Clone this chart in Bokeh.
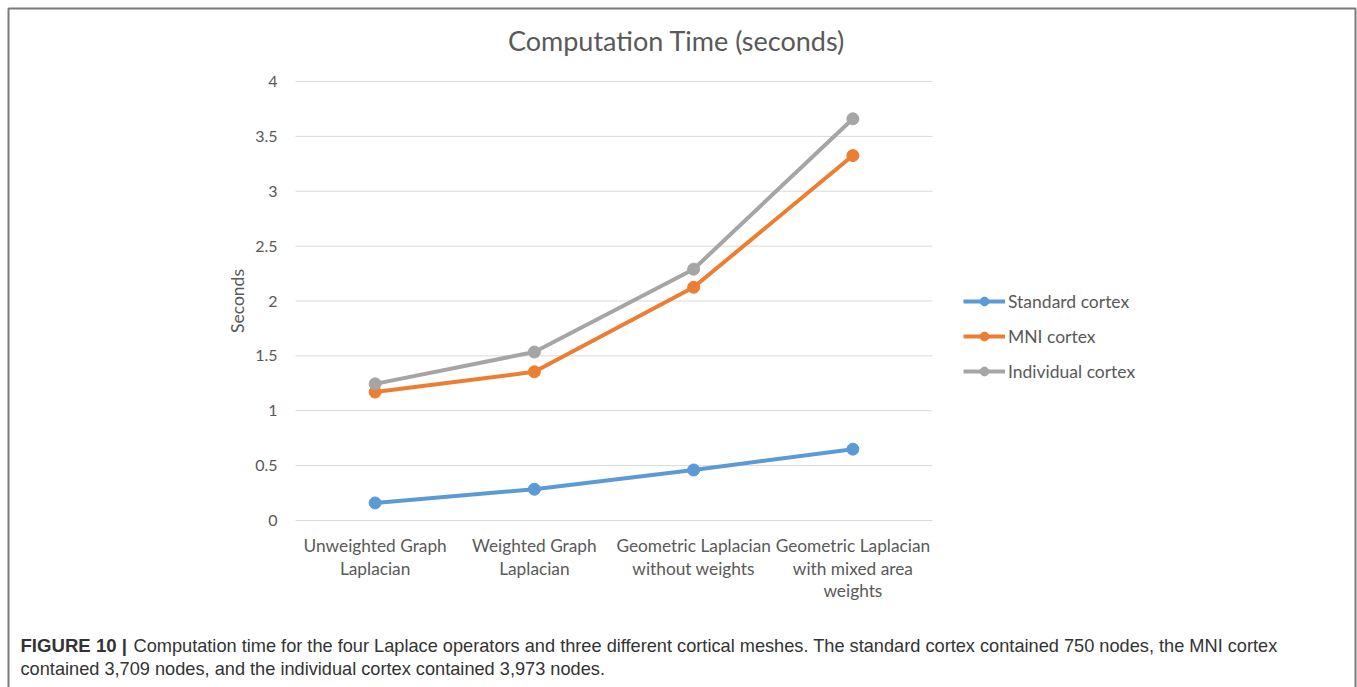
import math
from bokeh.plotting import figure
from bokeh.models import (Range1d, Label, Legend, LegendItem, LinearAxis,
                          PolyAnnotation, ColumnDataSource, FixedTicker)
from bokeh.embed import file_html
from bokeh.resources import INLINE

# ---------------- data ----------------
categories = ["Unweighted Graph Laplacian", "Weighted Graph Laplacian",
              "Geometric Laplacian without weights",
              "Geometric Laplacian with mixed area weights"]
category_label_lines = [["Unweighted Graph", "Laplacian"],
                        ["Weighted Graph", "Laplacian"],
                        ["Geometric Laplacian", "without weights"],
                        ["Geometric Laplacian", "with mixed area", "weights"]]
standard_cortex = [0.16, 0.285, 0.46, 0.65]
mni_cortex = [1.17, 1.355, 2.125, 3.325]
individual_cortex = [1.245, 1.535, 2.29, 3.66]
series_names = ["Standard cortex", "MNI cortex", "Individual cortex"]
y_ticks = [0, 0.5, 1, 1.5, 2, 2.5, 3, 3.5, 4]
y_tick_labels = ["0", "0.5", "1", "1.5", "2", "2.5", "3", "3.5", "4"]
title_text = "Computation Time (seconds)"
y_label = "Seconds"
caption_bold = "FIGURE 10 |"
caption_line1 = ("Computation time for the four Laplace operators and three different "
                 "cortical meshes. The standard cortex contained 750 nodes, the MNI cortex")
caption_line2 = "contained 3,709 nodes, and the individual cortex contained 3,973 nodes."

# ---------------- layout (pixels) ----------------
W, H = 1357, 687
PA_LEFT, PA_RIGHT, PA_TOP, PA_BOTTOM = 295, 932, 81, 520   # plot area
Y_MAX = 4.0
N_CAT = len(categories)
px_per_cat = (PA_RIGHT - PA_LEFT) / N_CAT
px_per_sec = (PA_BOTTOM - PA_TOP) / Y_MAX

cat_range = Range1d(-PA_LEFT / px_per_cat, (W - PA_LEFT) / px_per_cat)
sec_range = Range1d(-(H - PA_BOTTOM) / px_per_sec, PA_BOTTOM / px_per_sec)

CHART_FONT = "Lato"
TEXT_GRAY = "#595959"
colors = ["#5B9BD5", "#ED7D31", "#A5A5A5"]

p = figure(x_range=Range1d(0, W), y_range=Range1d(H, 0),
           width=W, height=H, min_border=0,
           output_backend="svg", toolbar_location=None,
           x_axis_type=None, y_axis_type=None)
p.extra_x_ranges = {"cat": cat_range}
p.extra_y_ranges = {"sec": sec_range}
p.outline_line_color = None
p.background_fill_color = "white"
p.border_fill_color = "white"
p.grid.visible = False

cat_x = [i + 0.5 for i in range(N_CAT)]

# horizontal gridlines
p.segment(x0=[0] * len(y_ticks), x1=[N_CAT] * len(y_ticks), y0=y_ticks, y1=y_ticks,
          x_range_name="cat", y_range_name="sec", line_color="#D9D9D9", line_width=1)

# y axis drawn at the plot-area's left edge
yax = LinearAxis(y_range_name="sec", fixed_location=PA_LEFT,
                 ticker=FixedTicker(ticks=y_ticks))
yax.major_label_overrides = dict(zip(y_ticks, y_tick_labels))
yax.axis_line_color = None
yax.major_tick_line_color = None
yax.minor_tick_line_color = None
yax.major_tick_out = 0
yax.major_tick_in = 0
yax.minor_tick_out = 0
yax.major_label_text_font = CHART_FONT
yax.major_label_text_color = TEXT_GRAY
yax.major_label_text_font_size = "16px"
yax.major_label_standoff = 18
p.add_layout(yax, "left")

# y axis title, centred on the plot area
p.add_layout(Label(x=237, y=(PA_TOP + PA_BOTTOM) / 2, text=y_label, angle=math.pi / 2,
                   text_align="center", text_baseline="middle",
                   text_font=CHART_FONT, text_font_size="17.5px",
                   text_color=TEXT_GRAY))

# category labels (multi-line)
lx, ly, lt = [], [], []
for xi, lines in zip(cat_x, category_label_lines):
    for j, t in enumerate(lines):
        lx.append(xi)
        ly.append(545 + 22.5 * j)
        lt.append(t)
p.text(x=lx, y=ly, text=lt, x_range_name="cat", text_align="center",
       text_baseline="middle", text_font={"value": CHART_FONT},
       text_font_size="17.3px", text_color=TEXT_GRAY)

items = []
for name, vals, col in zip(series_names, [standard_cortex, mni_cortex, individual_cortex], colors):
    src = ColumnDataSource(dict(x=cat_x, y=vals))
    ln = p.line("x", "y", source=src, line_color=col, line_width=4,
                x_range_name="cat", y_range_name="sec")
    sc = p.scatter("x", "y", source=src, size=12, fill_color=col, line_color=col,
                   x_range_name="cat", y_range_name="sec")
    items.append(LegendItem(label=name, renderers=[ln, sc]))

legend = Legend(items=items, location=(963, H - 382),
                glyph_width=42, glyph_height=22, label_height=22,
                label_standoff=3, spacing=13, padding=0, margin=0,
                border_line_color=None, background_fill_alpha=0,
                label_text_font=CHART_FONT, label_text_font_size="17.5px",
                label_text_color=TEXT_GRAY)
p.add_layout(legend)

p.add_layout(Label(x=676, y=40, text=title_text,
                   text_align="center", text_baseline="middle",
                   text_font=CHART_FONT, text_font_size="27px",
                   text_color=TEXT_GRAY))

CAP_FONT = "Liberation Sans"
CAP_COLOR = "#333333"
p.add_layout(Label(x=20, y=645, text=caption_bold,
                   text_align="left", text_baseline="middle",
                   text_font=CAP_FONT, text_font_style="bold",
                   text_font_size="18.6px", text_color=CAP_COLOR))
p.add_layout(Label(x=133, y=645, text=caption_line1,
                   text_align="left", text_baseline="middle",
                   text_font=CAP_FONT, text_font_size="18.2px", text_color=CAP_COLOR))
p.add_layout(Label(x=20, y=668, text=caption_line2,
                   text_align="left", text_baseline="middle",
                   text_font=CAP_FONT, text_font_size="18.2px", text_color=CAP_COLOR))

p.add_layout(PolyAnnotation(xs=[8, 8, 1355, 1355], ys=[740, 8, 8, 740],
                            line_color="#7A7A7A", line_alpha=1.0, line_width=2,
                            fill_alpha=0))

open("out.html", "w").write(file_html(p, INLINE))
